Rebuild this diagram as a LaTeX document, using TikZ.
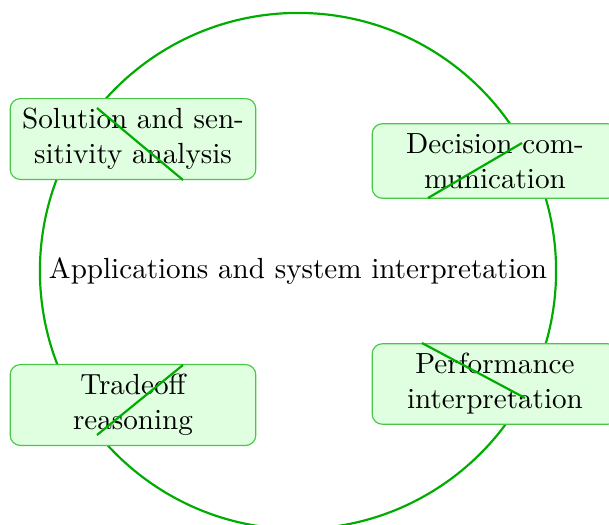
\documentclass[tikz,border=0pt]{standalone}
\usetikzlibrary{shapes.geometric}
\definecolor{ringgreen}{RGB}{0,172,0}
\definecolor{boxedge}{RGB}{70,200,70}
\definecolor{boxfill}{RGB}{224,255,224}
\tikzset{
  ring/.style={circle, draw=ringgreen, line width=0.75pt, minimum size=6.23cm, inner sep=0pt, align=center},
  topicbox/.style={rectangle, rounded corners=3.5pt, draw=boxedge, line width=0.4pt, fill=boxfill, text width=2.73cm, align=center, minimum height=0.9cm},
  slash/.style={draw=ringgreen, line width=0.75pt}
}
\begin{document}
\begin{tikzpicture}[x=0.01207cm, y=-0.01207cm]
\useasboundingbox (0,0) rectangle (609,524);
\node[ring] (hub) at (298,271) {Applications and system interpretation};
\node[topicbox] (sol) at (133,139) {Solution and sensitivity analysis};
\node[topicbox] (dec) at (495,161) {Decision communication};
\node[topicbox] (tra) at (133,405) {Tradeoff reasoning};
\node[topicbox] (per) at (495,384) {Performance interpretation};
\coordinate (s1) at (97,108); \coordinate (s2) at (183,180);
\coordinate (d1) at (428,198); \coordinate (d2) at (522,143);
\coordinate (t1) at (97,435); \coordinate (t2) at (183,365);
\coordinate (p1) at (422,343); \coordinate (p2) at (525,398);
\draw[slash] (s1) -- (s2);
\draw[slash] (d1) -- (d2);
\draw[slash] (t1) -- (t2);
\draw[slash] (p1) -- (p2);
\end{tikzpicture}
\end{document}
